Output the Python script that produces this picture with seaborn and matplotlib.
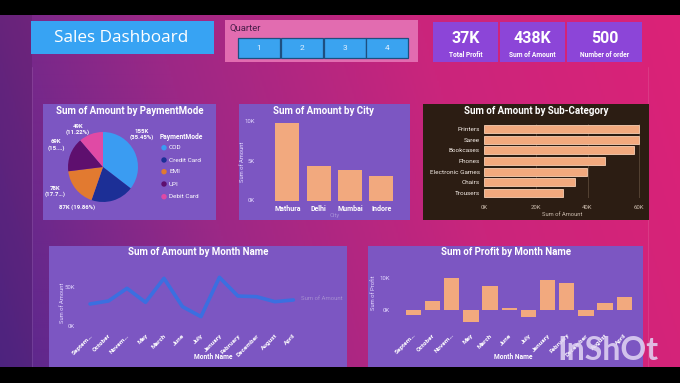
import numpy as np
import matplotlib
matplotlib.use("Agg")
import matplotlib.pyplot as plt
from matplotlib.patches import Rectangle, Circle
from matplotlib.colors import LinearSegmentedColormap
from matplotlib import font_manager
import seaborn as sns
import pandas as pd

# ---------------- data ----------------
kpi_values = ["37K", "438K", "500"]
kpi_labels = ["Total Profit", "Sum of Amount", "Number of order"]
quarters = ["1", "2", "3", "4"]

pay_modes = ["COD", "Credit Card", "EMI", "UPI", "Debit Card"]
pay_amount = [155.3, 87.0, 77.6, 68.9, 49.2]
pay_labels = ["155K\n(35.45%)", "87K (19.86%)", "78K\n(17.7…)", "69K\n(15.…)", "49K\n(11.22%)"]

cities = ["Mathura", "Delhi", "Mumbai", "Indore"]
city_amount = [9.85, 4.37, 3.86, 3.1]
city_tick_vals = [0, 5, 10]
city_tick_labels = ["0K", "5K", "10K"]

subcats = ["Printers", "Saree", "Bookcases", "Phones", "Electronic Games", "Chairs", "Trousers"]
subcat_amount = [60.0, 59.9, 57.8, 46.8, 39.7, 35.0, 30.7]
subcat_tick_vals = [0, 20, 40, 60]
subcat_tick_labels = ["0K", "20K", "40K", "60K"]

months = ["September", "October", "November", "May", "March", "June",
          "July", "January", "February", "December", "August", "April"]
month_tick_labels = ["Septem…", "October", "Novem…", "May", "March", "June",
                     "July", "January", "February", "December", "August", "April"]
month_amount = [28.0, 31.8, 47.9, 30.1, 60.6, 24.6, 11.9, 61.9, 38.1, 37.3, 30.9, 33.1]
month_profit = [-1.6, 2.8, 10.2, -3.9, 7.7, 0.5, -2.3, 9.5, 8.4, -1.8, 2.1, 4.0]
amount_tick_vals = [0, 50]
amount_tick_labels = ["0K", "50K"]
profit_tick_vals = [0, 10]
profit_tick_labels = ["0K", "10K"]

# ---------------- style ----------------
sns.set_theme(style="white")
plt.rcParams["font.family"] = ["Roboto", "DejaVu Sans"]
names = {f.name for f in font_manager.fontManager.ttflist}
TFONT = ["Liberation Sans Narrow", "Roboto", "DejaVu Sans"] if "Liberation Sans Narrow" in names else ["Roboto", "DejaVu Sans"]

W, H = 680, 383
fig = plt.figure(figsize=(6.8, 3.83), dpi=100)


def box(x0, y0, x1, y1):
    return [x0 / W, 1 - y1 / H, (x1 - x0) / W, (y1 - y0) / H]


bg = fig.add_axes([0, 0, 1, 1])
bg.set_xlim(0, W)
bg.set_ylim(H, 0)
bg.axis("off")

# background gradient
xs = np.linspace(0, 1, 340)
ys = np.linspace(0, 1, 192)
X, Y = np.meshgrid(xs, ys)
T = np.clip(X * 0.85 + (1 - Y) * 0.15, 0, 1)
cmap = LinearSegmentedColormap.from_list("bgc", ["#55288e", "#9c2886", "#ca257c", "#dc2277"])
bg.imshow(T, cmap=cmap, extent=(0, W, H, 0), aspect="auto", interpolation="bilinear", zorder=0)

bg.add_patch(Rectangle((0, 0), 32, H, color="black", alpha=0.10, zorder=1, lw=0))
bg.plot([32, 32], [67, 367], color="white", alpha=0.12, lw=0.6, zorder=1)
bg.plot([648, 648], [67, 367], color="white", alpha=0.12, lw=0.6, zorder=1)
bg.add_patch(Rectangle((0, 0), W, 15, color="black", zorder=5, lw=0))
bg.add_patch(Rectangle((0, 367), W, 16, color="black", zorder=5, lw=0))

# header
bg.add_patch(Rectangle((31, 21), 183, 33, color="#37a3f3", lw=0, zorder=2))
bg.text(54, 37.5, "Sales Dashboard", color="white", fontsize=12.3, va="center", ha="left",
        family=["Open Sans", "DejaVu Sans"], zorder=3)

bg.add_patch(Rectangle((225, 20), 193, 42, color="#e26cb0", lw=0, zorder=2))
bg.text(229, 28.5, "Quarter", color="#4a1f4a", fontsize=6.8, va="center", ha="left", family=TFONT, zorder=3)
for i, q in enumerate(quarters):
    x0 = 238 + i * 42.75
    bg.add_patch(Rectangle((x0, 38), 42, 19.5, facecolor="#3aa3f0", edgecolor="#1e4f80", lw=0.9, zorder=3))
    bg.text(x0 + 21, 47.8, q, color="#e6f2ff", fontsize=6, ha="center", va="center", zorder=4)

card_x = [433, 500, 567]
card_w = [65, 65, 75]
for xv, wv, v, lab in zip(card_x, card_w, kpi_values, kpi_labels):
    bg.add_patch(Rectangle((xv, 22), wv, 40, color="#8c45d8", lw=0, zorder=2))
    bg.text(xv + wv / 2, 38.5, v, color="white", fontsize=11.5, fontweight="bold", ha="center", va="center",
            family=TFONT, zorder=3)
    bg.text(xv + wv / 2, 55, lab, color="white", fontsize=4.8, fontweight="bold", ha="center", va="center",
            family=TFONT, zorder=3)

# panels
PANEL = "#7c56c2"
bg.add_patch(Rectangle((43, 104), 173, 116, color=PANEL, lw=0, zorder=2))
bg.add_patch(Rectangle((239, 104), 171, 116, color=PANEL, lw=0, zorder=2))
bg.add_patch(Rectangle((423, 104), 226, 116, color="#2c1d13", lw=0, zorder=2))
bg.add_patch(Rectangle((49, 246), 298, 121, color=PANEL, lw=0, zorder=2))
bg.add_patch(Rectangle((368, 246), 275, 121, color=PANEL, lw=0, zorder=2))

tkw = dict(color="white", fontsize=7, fontweight="bold", ha="center", va="center", family=TFONT, zorder=3)
bg.text(129.5, 110.5, "Sum of Amount by PaymentMode", **tkw)
bg.text(323, 110.7, "Sum of Amount by City", **tkw)
bg.text(536, 110.7, "Sum of Amount by Sub-Category", **tkw)
bg.text(198, 251.7, "Sum of Amount by Month Name", **tkw)
bg.text(506, 251.7, "Sum of Profit by Month Name", **tkw)

AXT = "#e4d8ff"
small = dict(fontsize=4.2, family=TFONT, zorder=3)

# ---------------- pie ----------------
pay_colors = ["#3a9cf2", "#1c2f96", "#e27a30", "#5e0f6e", "#e04aa5"]
pax = fig.add_axes(box(68, 132, 138, 202))
pax.pie(pay_amount, colors=pay_colors, startangle=90, counterclock=False,
        wedgeprops=dict(linewidth=0))
pax.set_xlim(-1, 1)
pax.set_ylim(-1, 1)
label_pos = [(142, 134.5), (77, 207), (55, 191.5), (56, 145), (78, 129.5)]
for (lx, ly), lab in zip(label_pos, pay_labels):
    bg.text(lx, ly, lab, color="white", fontsize=4.3, fontweight="bold", ha="center", va="center",
            linespacing=1.1, family=TFONT, zorder=3)
bg.text(160, 137, "PaymentMode", color="white", fontsize=4.8, fontweight="bold", ha="left", va="center",
        family=TFONT, zorder=3)
leg_y = [147.7, 160, 171.7, 184, 196.7]
for yv, c, m in zip(leg_y, pay_colors, pay_modes):
    bg.add_patch(Circle((164, yv), 2.0, color=c, zorder=3))
    bg.text(169, yv, m, color="white", fontsize=4.6, ha="left", va="center", family=TFONT, zorder=3)

BAR = "#f2a97e"


def style_axes(ax):
    ax.set_facecolor("none")
    for s in ax.spines.values():
        s.set_visible(False)
    ax.tick_params(length=0)
    ax.set_xlabel("")
    ax.set_ylabel("")


# ---------------- city ----------------
cax = fig.add_axes(box(271.7, 115, 397, 200.5))
sns.barplot(x=cities, y=city_amount, color=BAR, saturation=1, width=0.76, linewidth=0, ax=cax)
style_axes(cax)
cax.set_xlim(-0.5, 3.5)
cax.set_ylim(0, 10.8)
cax.set_yticks(city_tick_vals)
cax.set_yticklabels(city_tick_labels)
cax.tick_params(axis="y", labelcolor=AXT, labelsize=4.3, pad=12)
cax.tick_params(axis="x", labelcolor="white", labelsize=5, pad=3)
for t in cax.get_xticklabels():
    t.set_fontweight("bold")
bg.text(242, 162, "Sum of Amount", rotation=90, color=AXT, ha="center", va="center", **small)
bg.text(335, 215, "City", color="#a890d8", ha="center", va="center", **small)

# ---------------- sub-category ----------------
sax = fig.add_axes(box(484, 124, 644.5, 198))
sns.barplot(x=subcat_amount, y=subcats, orient="h", color=BAR, saturation=1, width=0.76,
            edgecolor="#f9cfb4", linewidth=0.6, ax=sax)
style_axes(sax)
sax.set_xlim(0, 62)
sax.set_ylim(6.5, -0.5)
sax.set_xticks(subcat_tick_vals)
sax.set_xticklabels(subcat_tick_labels)
for xv in subcat_tick_vals[1:]:
    sax.axvline(xv, color="#5a4838", lw=0.6, zorder=0)
sax.tick_params(axis="x", labelcolor="#cbbcae", labelsize=4.3, pad=5)
sax.tick_params(axis="y", labelcolor="#f4ece6", labelsize=4.6, pad=3)
bg.text(562, 214, "Sum of Amount", color="#cbbcae", ha="center", va="center", **small)

# ---------------- month line ----------------
df_m = pd.DataFrame({"Month Name": months, "Amount": month_amount, "Profit": month_profit})
max_ = fig.add_axes(box(80.8, 272.5, 302.6, 326))
sns.lineplot(data=df_m, x="Month Name", y="Amount", sort=False, color="#3b6fe0", linewidth=2.6, ax=max_)
style_axes(max_)
max_.set_xlim(-0.5, 11.5)
max_.set_ylim(0, 68)
max_.set_yticks(amount_tick_vals)
max_.set_yticklabels(amount_tick_labels)
max_.set_xticks(range(len(months)))
max_.set_xticklabels(month_tick_labels, rotation=45, ha="right", rotation_mode="anchor")
max_.tick_params(axis="y", labelcolor=AXT, labelsize=4.3, pad=4)
max_.tick_params(axis="x", labelcolor="white", labelsize=4.6, pad=5)
for t in max_.get_xticklabels():
    t.set_fontweight("bold")
bg.text(62.3, 303, "Sum of Amount", rotation=90, color=AXT, ha="center", va="center", **small)
bg.text(213, 357.3, "Month Name", color="white", fontsize=4.8, fontweight="bold", ha="center", va="center",
        family=TFONT, zorder=3)
bg.text(322, 299, "Sum of Amount", color="#a58ed0", ha="center", va="center", fontsize=4.3, family=TFONT, zorder=3)

# ---------------- profit bars ----------------
pax2 = fig.add_axes(box(403.7, 272, 633.9, 325.9))
sns.barplot(data=df_m, x="Month Name", y="Profit", color=BAR, saturation=1, width=0.8, linewidth=0, ax=pax2)
style_axes(pax2)
pax2.set_xlim(-0.5, 11.5)
pax2.set_ylim(-5, 12)
pax2.set_yticks(profit_tick_vals)
pax2.set_yticklabels(profit_tick_labels)
pax2.set_xticks(range(len(months)))
pax2.set_xticklabels(month_tick_labels, rotation=45, ha="right", rotation_mode="anchor")
pax2.tick_params(axis="y", labelcolor=AXT, labelsize=4.3, pad=10)
pax2.tick_params(axis="x", labelcolor="white", labelsize=4.6, pad=5)
for t in pax2.get_xticklabels():
    t.set_fontweight("bold")
bg.text(373.3, 293, "Sum of Profit", rotation=90, color=AXT, ha="center", va="center", **small)
bg.text(513, 357, "Month Name", color="white", fontsize=4.8, fontweight="bold", ha="center", va="center",
        family=TFONT, zorder=3)

# watermark
wm = fig.add_axes([0, 0, 1, 1])
wm.set_xlim(0, W)
wm.set_ylim(H, 0)
wm.axis("off")
wm.patch.set_alpha(0)
wm.text(608, 351, "InShOt", color="#e2d6f4", alpha=0.85, fontsize=23, fontweight="bold", ha="center",
        va="center", family=["Lato", "DejaVu Sans"])

fig.savefig("out.png", dpi=100)
